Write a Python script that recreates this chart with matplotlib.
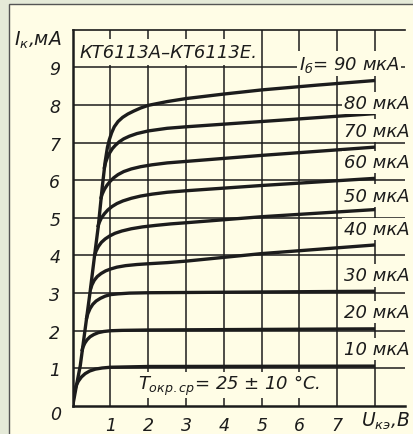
# output characteristics of KT6113 transistor
# (collector current vs collector-emitter voltage)

import matplotlib
matplotlib.use('Agg')
import matplotlib.pyplot as plt
from matplotlib.patches import Rectangle

plt.rcParams['font.family'] = ['DejaVu Sans']
plt.rcParams['mathtext.fontset'] = 'dejavusans'

# curve data, U in V, I in mA
u_90 = [0, 0.1, 0.2, 0.33, 0.46, 0.59, 0.68, 0.78, 0.86, 0.92, 0.97, 1.03, 1.1, 1.2,
        1.32, 1.46, 1.62, 1.8, 2, 2.5, 3, 4, 5, 6.5, 8]
i_90 = [0, 0.55, 1.07, 2.05, 3.03, 4.09, 4.8, 5.8, 6.5, 6.88, 7.08, 7.26, 7.42, 7.56,
        7.67, 7.76, 7.84, 7.92, 7.99, 8.09, 8.17, 8.29, 8.4, 8.53, 8.65]
u_80 = [0.83, 0.87, 0.92, 0.98, 1.05, 1.13, 1.23, 1.35, 1.5, 1.7, 2, 2.5, 3, 5, 8]
i_80 = [6.3, 6.47, 6.61, 6.73, 6.84, 6.93, 7.02, 7.1, 7.17, 7.24, 7.31, 7.38, 7.42, 7.56, 7.77]
u_70 = [0.74, 0.78, 0.84, 0.91, 0.99, 1.08, 1.2, 1.35, 1.55, 1.8, 2.1, 2.5, 3, 5, 8]
i_70 = [5.5, 5.63, 5.76, 5.87, 5.97, 6.06, 6.15, 6.23, 6.3, 6.36, 6.41, 6.46, 6.5, 6.66, 6.88]
u_60 = [0.66, 0.7, 0.76, 0.84, 0.93, 1.04, 1.17, 1.33, 1.55, 1.8, 2.1, 2.5, 3, 5, 8]
i_60 = [4.75, 4.87, 5.0, 5.11, 5.21, 5.3, 5.38, 5.45, 5.52, 5.58, 5.63, 5.68, 5.72, 5.86, 6.05]
u_50 = [0.58, 0.62, 0.68, 0.76, 0.86, 0.98, 1.12, 1.3, 1.55, 1.85, 2.2, 2.6, 3, 5, 8]
i_50 = [4.0, 4.12, 4.24, 4.35, 4.44, 4.52, 4.59, 4.65, 4.71, 4.76, 4.8, 4.84, 4.87, 5.03, 5.22]
u_40 = [0.47, 0.51, 0.57, 0.65, 0.75, 0.87, 1.0, 1.17, 1.4, 1.7, 2, 2.5, 3, 5, 8]
i_40 = [3.1, 3.22, 3.34, 3.44, 3.52, 3.59, 3.64, 3.69, 3.73, 3.76, 3.78, 3.81, 3.85, 4.05, 4.28]
u_30 = [0.36, 0.4, 0.46, 0.53, 0.62, 0.73, 0.86, 1.0, 1.2, 1.5, 2, 8]
i_30 = [2.3, 2.45, 2.59, 2.7, 2.79, 2.86, 2.92, 2.96, 2.98, 3.0, 3.01, 3.05]
u_20 = [0.24, 0.27, 0.32, 0.38, 0.46, 0.56, 0.68, 0.82, 1.0, 1.3, 2, 8]
i_20 = [1.45, 1.56, 1.67, 1.76, 1.84, 1.9, 1.95, 1.98, 2.0, 2.01, 2.02, 2.05]
u_10 = [0, 0.02, 0.05, 0.09, 0.15, 0.23, 0.33, 0.45, 0.6, 0.78, 1.0, 2, 8]
i_10 = [0, 0.22, 0.4, 0.54, 0.66, 0.77, 0.86, 0.93, 0.98, 1.01, 1.03, 1.05, 1.06]

curves = [(u_90, i_90), (u_80, i_80), (u_70, i_70), (u_60, i_60), (u_50, i_50),
          (u_40, i_40), (u_30, i_30), (u_20, i_20), (u_10, i_10)]

curve_labels = ['80 мкА', '70 мкА', '60 мкА', '50 мкА', '40 мкА',
                '30 мкА', '20 мкА', '10 мкА']
label_y = [8.06, 7.32, 6.48, 5.59, 4.71, 3.47, 2.49, 1.52]

xticks = [1, 2, 3, 4, 5, 6, 7]
yticks = [1, 2, 3, 4, 5, 6, 7, 8, 9]

cream = '#fffde6'
ink = '#1c1c1c'
outer = '#e5ead8'

fig = plt.figure(figsize=(4.14, 4.35), dpi=100, facecolor=outer)
# cream panel with thin frame
fig.patches.append(Rectangle((9/414, -0.05), 1.0, 1 - 5/435 + 0.05,
                             transform=fig.transFigure, fc=cream, ec='#555555',
                             lw=1.0, zorder=-10))

ax = fig.add_axes([72.7/414, 28/435, 332.6/414, 376.3/435])
ax.set_zorder(1)
ax.set_facecolor(cream)
ax.set_xlim(0, 8.8)
ax.set_ylim(0, 10)

# grid
for x in [1, 2, 3, 4, 5, 6, 7, 8]:
    ax.axvline(x, color=ink, lw=1.1, zorder=1)
for y in yticks:
    ax.axhline(y, color=ink, lw=1.1, zorder=1)

for u, i in curves:
    ax.plot(u, i, color=ink, lw=2.4, solid_capstyle='butt',
            solid_joinstyle='round', zorder=3)

box = dict(boxstyle='square,pad=0.12', fc=cream, ec='none')
for txt, y in zip(curve_labels, label_y):
    ax.text(7.17, y, txt, fontsize=13, style='italic', color=ink,
            ha='left', va='center', bbox=box, zorder=4)

ax.text(5.98, 9.1, r'$I_{б}$' + '= 90 мкА', fontsize=13, style='italic', color=ink,
        ha='left', va='center', bbox=box, zorder=4)

ax.text(0.18, 9.4, 'КТ6113А–КТ6113Е.', fontsize=13, style='italic', color=ink,
        ha='left', va='center', zorder=4,
        bbox=dict(boxstyle='square,pad=0.22', fc=cream, ec='none'))

ax.text(1.72, 0.55, r'$T_{окр.ср}$' + '= 25 ± 10 °C.', fontsize=13, style='italic',
        color=ink, ha='left', va='center', zorder=4,
        bbox=dict(boxstyle='square,pad=0.05', fc=cream, ec='none'))

# axes
ax.spines['right'].set_visible(False)
for s in ['left', 'bottom', 'top']:
    ax.spines[s].set_color(ink)
ax.spines['left'].set_linewidth(1.8)
ax.spines['bottom'].set_linewidth(1.8)
ax.spines['top'].set_linewidth(1.2)

ax.set_xticks(xticks)
ax.set_yticks(yticks)
ax.set_xticklabels([str(t) for t in xticks], fontsize=12.5, style='italic', color=ink)
ax.set_yticklabels([str(t) for t in yticks], fontsize=12.5, style='italic', color=ink)
ax.tick_params(axis='both', length=0)
ax.tick_params(axis='x', pad=7)
ax.tick_params(axis='y', pad=9)

ax.text(-0.45, -0.2, '0', fontsize=12.5, style='italic', color=ink,
        ha='center', va='center', clip_on=False)
ax.text(7.62, -0.38, r'$U_{кэ}$' + ',В', fontsize=13.5, style='italic', color=ink,
        ha='left', va='center', clip_on=False)
fig.text(14/414, 1 - 40/435, r'$I_{к}$' + ',мА', fontsize=13.5, style='italic',
         color=ink, ha='left', va='center')

plt.savefig('out.png', dpi=100, facecolor=outer)
